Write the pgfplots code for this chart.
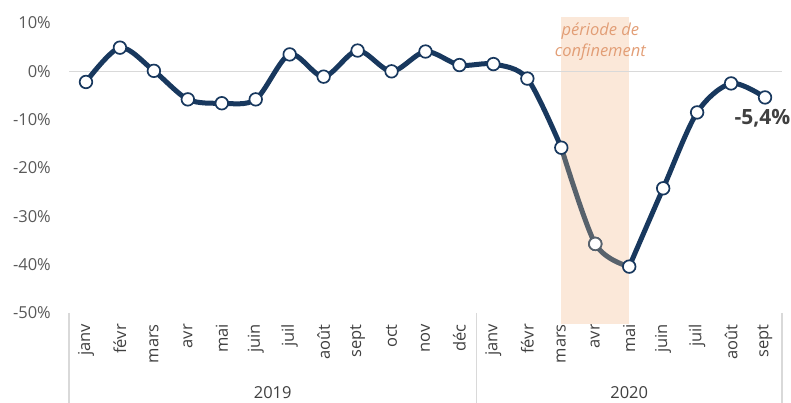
\documentclass[border=0pt]{standalone}
\usepackage{fontspec}
\setmainfont{Open Sans}
\usepackage{pgfplots}
\usepackage{pgfplotstable}
\pgfplotsset{compat=1.18}

\definecolor{navy}{RGB}{24,56,94}
\definecolor{lockgrey}{RGB}{88,98,108}
\definecolor{band}{RGB}{251,232,217}
\definecolor{bandtext}{RGB}{226,158,118}
\definecolor{axisgrey}{RGB}{217,217,217}
\definecolor{ticktext}{RGB}{89,89,89}
\definecolor{labeltext}{RGB}{64,64,64}

% monthly change, Jan 2019 -> Sep 2020
\pgfplotstableread{
idx val
0  -2.2
1   4.9
2   0.1
3  -5.8
4  -6.6
5  -5.8
6   3.5
7  -1.1
8   4.3
9   0.0
10  4.1
11  1.3
12  1.5
13 -1.5
14 -15.8
15 -35.7
16 -40.4
17 -24.2
18 -8.5
19 -2.5
20 -5.4
}\evolution

\begin{document}
\begin{tikzpicture}
\begin{axis}[
    at={(0,0)}, anchor=south west,
    scale only axis,
    width=713pt, height=290pt,
    xmin=-0.5, xmax=20.5,
    ymin=-50, ymax=10,
    clip=false,
    axis line style={draw=none},
    tick style={draw=none},
    xtick={0,...,20},
    xticklabels={janv,févr,mars,avr,mai,juin,juil,août,sept,oct,nov,déc,
                 janv,févr,mars,avr,mai,juin,juil,août,sept},
    ytick={-50,-40,-30,-20,-10,0,10},
    yticklabels={-50\%,-40\%,-30\%,-20\%,-10\%,0\%,10\%},
    tick label style={font=\fontsize{16.5}{19}\selectfont},
    xticklabel style={rotate=90, anchor=east, inner sep=0pt, text=labeltext},
    xticklabel shift=11pt,
    yticklabel style={anchor=east, inner sep=0pt, text=ticktext},
    yticklabel shift=18pt,
]
    % lockdown band
    \fill[band] (axis cs:14,-52.3) rectangle (axis cs:16,11.2);

    % zero line
    \draw[axisgrey, line width=1.5pt] (axis cs:-0.5,0) -- (axis cs:20.5,0);

    % category separators
    \draw[axisgrey, line width=1.5pt] (axis cs:-0.5,-50) -- ++(0pt,-90pt);
    \draw[axisgrey, line width=1.5pt] (axis cs:11.5,-50) -- ++(0pt,-90pt);
    \draw[axisgrey, line width=1.5pt] (axis cs:20.5,-50) -- ++(0pt,-90pt);

    % series
    \addplot[navy, line width=5pt, smooth, line cap=round, restrict x to domain=0:14]
        table[x=idx, y=val] {\evolution};
    \addplot[navy, line width=5pt, smooth, line cap=round, restrict x to domain=16:20]
        table[x=idx, y=val] {\evolution};
    \addplot[lockgrey, line width=5pt, smooth, line cap=round, restrict x to domain=14:16]
        table[x=idx, y=val] {\evolution};

    % markers
    \addplot[only marks, mark=*, mark size=6.3pt,
        mark options={draw=navy, fill=white, line width=1.7pt}]
        table[x=idx, y=val] {\evolution};
    \addplot[only marks, mark=*, mark size=6.3pt, restrict x to domain=15:15,
        mark options={draw=lockgrey, fill=white, line width=1.7pt}]
        table[x=idx, y=val] {\evolution};

    % annotations
    \node[anchor=base, text=bandtext, font=\fontsize{16.5}{19}\selectfont\itshape]
        at (axis cs:15.15,7.5) {période de};
    \node[anchor=base, text=bandtext, font=\fontsize{16.5}{19}\selectfont\itshape]
        at (axis cs:15.15,3.0) {confinement};
    \node[anchor=base west, text=labeltext, font=\fontsize{21}{24}\selectfont\bfseries]
        at (axis cs:19.0,-10.9) {-5,4\%};

    % years
    \node[anchor=base, text=labeltext, font=\fontsize{16.5}{19}\selectfont]
        at ([yshift=-85pt]axis cs:5.5,-50) {2019};
    \node[anchor=base, text=labeltext, font=\fontsize{16.5}{19}\selectfont]
        at ([yshift=-85pt]axis cs:16,-50) {2020};
\end{axis}
\pgfresetboundingbox
\useasboundingbox (-69pt,-90pt) rectangle (722pt,313pt);
\end{tikzpicture}
\end{document}
